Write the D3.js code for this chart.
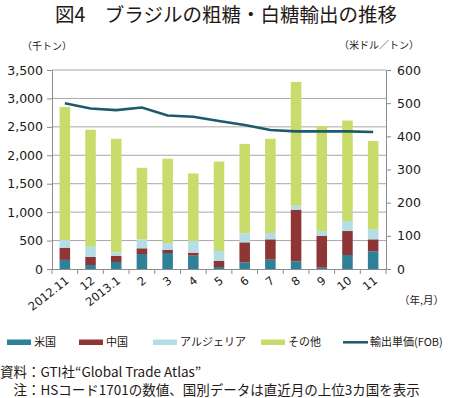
<!DOCTYPE html>
<html>
<head>
<meta charset="utf-8">
<script src="https://cdn.jsdelivr.net/npm/d3@7"></script>
<style>
	body { margin: 0; background: #fff; }
	svg { display: block; }
	text { fill: #231815; }
</style>
</head>
<body>
<svg id="chart" width="450" height="398"></svg>
<script>
// Data (千トン / 米ドル・トン)
const months = ["2012.11", "12", "2013.1", "2", "3", "4", "5", "6", "7", "8", "9", "10", "11"];
const usa     = [160, 70, 123, 264, 281, 234, 35, 118, 164, 135, 23, 246, 311];
const china   = [215, 141, 106, 100, 53, 53, 106, 351, 358, 908, 563, 422, 211];
const algeria = [135, 181, 64, 158, 123, 205, 176, 158, 111, 70, 82, 176, 176];
const totals  = [2850, 2450, 2290, 1780, 1940, 1680, 1890, 2200, 2290, 3290, 2515, 2610, 2250];
const price   = [500, 484, 479, 487, 463, 459, 446, 434, 419, 415, 415, 415, 413];
const leftTicks = [0, 500, 1000, 1500, 2000, 2500, 3000, 3500];
const rightTicks = [0, 100, 200, 300, 400, 500, 600];

const seriesNames = ["米国", "中国", "アルジェリア", "その他"];
const colors = ["#2e8197", "#8e3536", "#b4dde6", "#c8dc6c"];
const lineColor = "#1f5a6a";

const others = totals.map((t, i) => t - usa[i] - china[i] - algeria[i]);
const rows = months.map((m, i) => ({
	month: m, "米国": usa[i], "中国": china[i], "アルジェリア": algeria[i], "その他": others[i]
}));

const svg = d3.select("#chart");
const jp = "'Noto Sans CJK JP', sans-serif";
const num = "'DejaVu Sans', Verdana, sans-serif";

const plotLeft = 52, plotRight = 386, plotTop = 70, plotBottom = 269;

const x = d3.scaleBand()
	.domain(months)
	.range([plotLeft, plotRight])
	.paddingInner(0.59)
	.paddingOuter(0.295);

const y = d3.scaleLinear().domain([0, 3500]).range([plotBottom, plotTop]);
const y2 = d3.scaleLinear().domain([0, 600]).range([plotBottom, plotTop]);

// gridlines
svg.append("g")
	.selectAll("line")
	.data(leftTicks.slice(1))
	.enter().append("line")
	.attr("x1", plotLeft).attr("x2", plotRight)
	.attr("y1", d => y(d)).attr("y2", d => y(d))
	.attr("stroke", "#a8a8a8")
	.attr("stroke-width", 1);

// stacked bars
const stack = d3.stack().keys(seriesNames);
const layers = stack(rows);

svg.append("g")
	.selectAll("g")
	.data(layers)
	.enter().append("g")
	.attr("fill", (d, i) => colors[i])
	.selectAll("rect")
	.data(d => d)
	.enter().append("rect")
	.attr("x", d => x(d.data.month))
	.attr("width", x.bandwidth())
	.attr("y", d => y(d[1]))
	.attr("height", d => y(d[0]) - y(d[1]));

// left axis
const yAxis = d3.axisLeft(y)
	.tickValues(leftTicks)
	.tickFormat(d3.format(","))
	.tickSize(5)
	.tickPadding(4);
const gy = svg.append("g").attr("transform", `translate(${plotLeft},0)`).call(yAxis);
gy.select(".domain").attr("stroke", "#8c8c8c");
gy.selectAll(".tick line").attr("stroke", "#8c8c8c");
gy.selectAll("text").attr("font-family", num).attr("font-size", 12.5).attr("fill", "#231815");

// right axis
const y2Axis = d3.axisRight(y2)
	.tickValues(rightTicks)
	.tickSize(5)
	.tickPadding(6);
const gy2 = svg.append("g").attr("transform", `translate(${plotRight},0)`).call(y2Axis);
gy2.select(".domain").attr("stroke", "#8c8c8c");
gy2.selectAll(".tick line").attr("stroke", "#8c8c8c");
gy2.selectAll("text").attr("font-family", num).attr("font-size", 12.5).attr("fill", "#231815");

// bottom axis line and ticks at band boundaries
svg.append("line")
	.attr("x1", plotLeft).attr("x2", plotRight)
	.attr("y1", plotBottom + 0.5).attr("y2", plotBottom + 0.5)
	.attr("stroke", "#8c8c8c");
const step = x.step();
svg.append("g")
	.selectAll("line")
	.data(d3.range(months.length + 1))
	.enter().append("line")
	.attr("x1", i => plotLeft + i * step).attr("x2", i => plotLeft + i * step)
	.attr("y1", plotBottom).attr("y2", plotBottom + 5)
	.attr("stroke", "#8c8c8c");

svg.append("g")
	.selectAll("text")
	.data(months)
	.enter().append("text")
	.attr("transform", d => `translate(${x(d) + x.bandwidth() / 2 + 5},${plotBottom + 13}) rotate(-38)`)
	.attr("text-anchor", "end")
	.attr("font-family", num)
	.attr("font-size", 11.5)
	.text(d => d);

// price line
const line = d3.line()
	.x((d, i) => x(months[i]) + x.bandwidth() / 2)
	.y(d => y2(d));
svg.append("path")
	.datum(price)
	.attr("d", line)
	.attr("fill", "none")
	.attr("stroke", lineColor)
	.attr("stroke-width", 2.6);

// title and units
svg.append("text")
	.attr("x", 226).attr("y", 22)
	.attr("text-anchor", "middle")
	.attr("font-family", jp)
	.attr("font-weight", 400)
	.attr("font-size", 19.5)
	.text("図4　ブラジルの粗糖・白糖輸出の推移");

svg.append("text")
	.attr("x", 22).attr("y", 50)
	.attr("font-family", jp)
	.attr("font-size", 10)
	.text("（千トン）");

svg.append("text")
	.attr("x", 339).attr("y", 49)
	.attr("font-family", jp)
	.attr("font-size", 10)
	.text("（米ドル／トン）");

svg.append("text")
	.attr("x", 399).attr("y", 304)
	.attr("font-family", jp)
	.attr("font-size", 10.5)
	.text("（年,月）");

// legend
const legendX = [7, 79, 153, 261];
const legend = svg.append("g");
seriesNames.forEach((name, i) => {
	legend.append("rect")
		.attr("x", legendX[i]).attr("y", 339.5)
		.attr("width", 24).attr("height", 5.5)
		.attr("fill", colors[i]);
	legend.append("text")
		.attr("x", legendX[i] + 27).attr("y", 346)
		.attr("font-family", jp)
		.attr("font-size", 11)
		.text(name);
});
legend.append("line")
	.attr("x1", 343).attr("x2", 368)
	.attr("y1", 342.3).attr("y2", 342.3)
	.attr("stroke", lineColor)
	.attr("stroke-width", 2.5);
legend.append("text")
	.attr("x", 370).attr("y", 346)
	.attr("font-family", jp)
	.attr("font-size", 11)
	.text("輸出単価(FOB)");

// source notes
svg.append("text")
	.attr("x", 0).attr("y", 377)
	.attr("font-family", jp)
	.attr("font-size", 13.5)
	.text("資料：GTI社“Global Trade Atlas”");

svg.append("text")
	.attr("x", 0).attr("y", 395)
	.attr("font-family", jp)
	.attr("font-size", 13.5)
	.text("　注：HSコード1701の数値、国別データは直近月の上位3カ国を表示");
</script>
</body>
</html>
